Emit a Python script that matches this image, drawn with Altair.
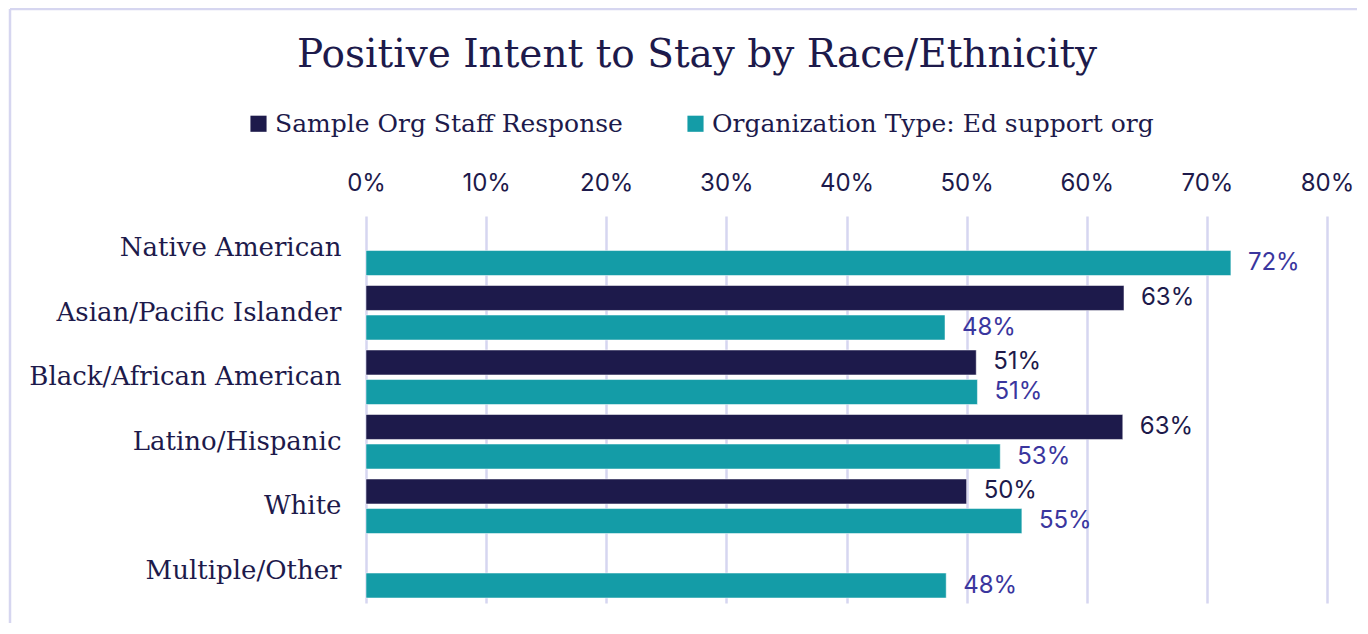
import altair as alt
import pandas as pd

title_text = "Positive Intent to Stay by Race/Ethnicity"
categories = ["Native American", "Asian/Pacific Islander", "Black/African American",
              "Latino/Hispanic", "White", "Multiple/Other"]
series = ["Sample Org Staff Response", "Organization Type: Ed support org"]
sample_vals = [None, 0.631, 0.508, 0.630, 0.500, None]
org_vals = [0.720, 0.482, 0.509, 0.528, 0.546, 0.483]
x_ticks = [0, 0.1, 0.2, 0.3, 0.4, 0.5, 0.6, 0.7, 0.8]

rows = []
for c, s, o in zip(categories, sample_vals, org_vals):
    if s is not None:
        rows.append({"category": c, "series": series[0], "value": s})
    if o is not None:
        rows.append({"category": c, "series": series[1], "value": o})
df = pd.DataFrame(rows)

DARK = "#1d1a4b"
TEAL = "#149ca7"
LBLUE = "#3a369e"
GRID = "#d6d6f0"
SERIF = "DejaVu Serif"
SANS = "Inter"

y_enc = alt.Y("category:N", sort=categories, title=None,
              scale=alt.Scale(paddingInner=0.155, paddingOuter=0.0775),
              axis=alt.Axis(labelFont=SERIF, labelFontSize=26, labelColor=DARK,
                            labelPadding=25, ticks=False, domain=False, grid=False,
                            labelLimit=400))
yoff = alt.YOffset("series:N", sort=series,
                   scale=alt.Scale(paddingInner=0.155, paddingOuter=0))
x_enc = alt.X("value:Q", title=None,
              scale=alt.Scale(domain=[0, 0.8], nice=False),
              axis=alt.Axis(orient="top", format=".0%", values=x_ticks,
                            labelFont=SANS, labelFontSize=24, labelColor=DARK,
                            labelPadding=21, labelFlush=False, ticks=False, domain=False,
                            grid=True, gridColor=GRID, gridWidth=2.5))

base = alt.Chart(df)

bars = base.mark_bar(stroke="white", strokeWidth=0.5).encode(
    x=x_enc,
    y=y_enc,
    yOffset=yoff,
    color=alt.Color("series:N", sort=series,
                    scale=alt.Scale(domain=series, range=[DARK, TEAL]),
                    legend=alt.Legend(title=None, orient="none", legendX=-120, legendY=-105,
                                      direction="horizontal", symbolType="square",
                                      symbolSize=260, symbolStrokeWidth=0,
                                      labelFont=SERIF, labelFontSize=25, labelColor=DARK,
                                      labelOffset=4, columnPadding=60, labelLimit=500)),
)

labels = base.mark_text(align="left", baseline="middle", dx=17, font=SANS, fontSize=24).encode(
    x=alt.X("value:Q"),
    y=alt.Y("category:N", sort=categories),
    yOffset=yoff,
    text=alt.Text("value:Q", format=".0%"),
    color=alt.condition(alt.datum.series == series[0], alt.value(DARK), alt.value(LBLUE)),
)

one = alt.Data(values=[{"a": 1}])
frame = alt.Chart(one).mark_rule(color=GRID, strokeWidth=2.5).encode(
    x=alt.value(-356), y=alt.value(-207), y2=alt.value(420))
frame_top = alt.Chart(one).mark_rule(color=GRID, strokeWidth=2.5).encode(
    x=alt.value(-356), x2=alt.value(1100), y=alt.value(-207))
title = alt.Chart(one).mark_text(font=SERIF, fontSize=39, color=DARK,
                                 align="center", baseline="middle").encode(
    x=alt.value(331), y=alt.value(-161), text=alt.value(title_text))

chart = alt.layer(frame, frame_top, title, bars, labels).properties(
    width=961, height=387,
    background="white",
    autosize=alt.AutoSizeParams(type="none"),
    padding={"left": 358, "top": 208, "right": 30, "bottom": 20},
).configure_view(strokeWidth=0, stroke=None)

chart.save("out.html", embed_options={"renderer": "svg", "actions": False})
